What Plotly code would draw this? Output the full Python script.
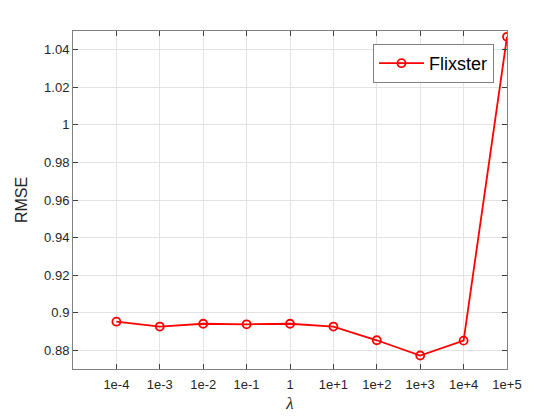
import plotly.graph_objects as go

lambdas = ["1e-4", "1e-3", "1e-2", "1e-1", "1", "1e+1", "1e+2", "1e+3", "1e+4", "1e+5"]
positions = [1, 2, 3, 4, 5, 6, 7, 8, 9, 10]
rmse = [0.8952, 0.8926, 0.8941, 0.8938, 0.8941, 0.8926, 0.8853, 0.8772, 0.8851, 1.0469]
y_ticks = [0.88, 0.90, 0.92, 0.94, 0.96, 0.98, 1.00, 1.02, 1.04]
y_tick_text = ["0.88", "0.9", "0.92", "0.94", "0.96", "0.98", "1", "1.02", "1.04"]

fig = go.Figure()
fig.add_trace(go.Scatter(
    x=positions, y=rmse, mode="lines+markers", name="Flixster",
    line=dict(color="#ff0000", width=1.8),
    marker=dict(symbol="circle-open", size=8, color="#ff0000", line=dict(width=1.8)),
))

axis_common = dict(
    showline=True, linecolor="#808080", linewidth=1, mirror="ticks",
    ticks="inside", ticklen=5, tickcolor="#404040",
    showgrid=True, gridcolor="#e3e3e3", gridwidth=1, zeroline=False,
    automargin=False,
    tickfont=dict(family="Liberation Sans, Arial", size=13, color="#262626"),
)

fig.update_layout(
    width=552, height=412,
    margin=dict(l=65, r=53, t=23, b=51, autoexpand=False),
    paper_bgcolor="white", plot_bgcolor="white",
    xaxis=dict(range=[0, 10], tickvals=positions, ticktext=lambdas,
               ticklabelstandoff=3,
               title=dict(text="<i>λ</i>", font=dict(family="Liberation Serif, Times New Roman", size=17, color="#262626"), standoff=6),
               **axis_common),
    yaxis=dict(range=[0.87, 1.05], tickvals=y_ticks, ticktext=y_tick_text,
               title=dict(text="RMSE", font=dict(family="Liberation Sans, Arial", size=16, color="#262626"), standoff=12),
               **axis_common),
    showlegend=True,
    legend=dict(x=0.970, y=0.9615, xanchor="right", yanchor="top",
                bgcolor="white", bordercolor="#808080", borderwidth=1,
                font=dict(family="Liberation Sans, Arial", size=18, color="#000000"),
                itemwidth=45),
)

fig.write_html("out.html")
